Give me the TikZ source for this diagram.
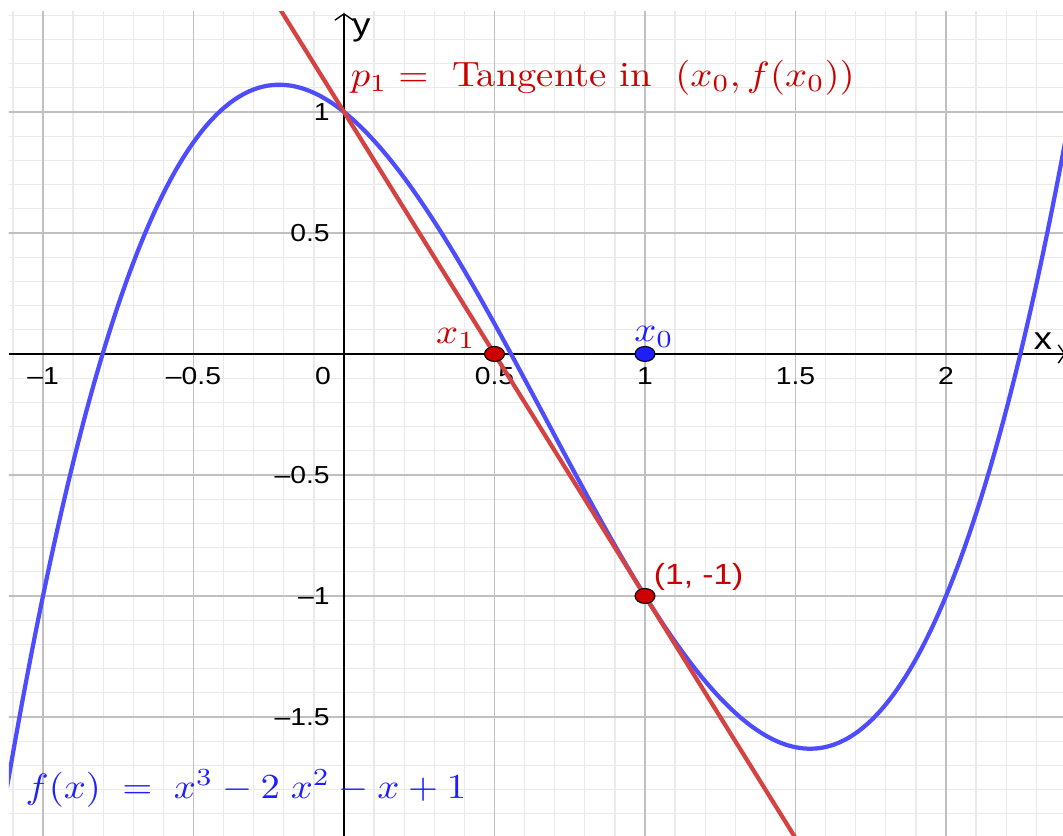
\documentclass[tikz,border=0pt]{standalone}
\usepackage{fontspec}
\newfontfamily\ggbsans{Liberation Sans}
\usepackage{tikz}
\usetikzlibrary{arrows.meta, positioning, shapes.geometric}

\definecolor{kurveblau}{RGB}{77,77,255}
\definecolor{tangrot}{RGB}{212,66,66}
\definecolor{textrot}{RGB}{204,0,0}
\definecolor{textblau}{RGB}{30,30,255}
\definecolor{gitterhaupt}{RGB}{192,192,192}
\definecolor{gitterneben}{RGB}{234,234,234}

\begin{document}
\begin{tikzpicture}[x=3.01cm, y=2.42cm,
  nebenlinie/.style={gitterneben, line width=0.35pt},
  hauptlinie/.style={gitterhaupt, line width=0.45pt},
  achse/.style={black, line width=0.4pt, -{Straight Barb[length=1.8pt,width=5.2pt]}},
  graph/.style={kurveblau, line width=1.2pt},
  tangente/.style={tangrot, line width=1.2pt},
  skala/.style={font=\ggbsans\fontsize{7}{8}\selectfont, inner sep=0pt, xscale=1.15},
  achsname/.style={font=\ggbsans\fontsize{9}{10}\selectfont, inner sep=0pt, xscale=1.15},
  formel/.style={font=\fontsize{10}{12}\selectfont, inner sep=0pt, xscale=1.1},
  punkt/.style={ellipse, draw=black, line width=0.3pt, minimum width=0.2cm,
                minimum height=0.15cm, inner sep=0pt}]

  \path[use as bounding box, fill=white] (-1.1429,-1.9917) rectangle (2.3887,1.4628);

  % --- Gitter ---
  \begin{scope}
    \clip (-1.113,-1.9917) rectangle (2.3887,1.417);
    \foreach \i in {-11,...,23} \draw[nebenlinie] (\i/10,-2) -- (\i/10,1.5);
    \foreach \j in {-19,...,14} \draw[nebenlinie] (-1.2,\j/10) -- (2.4,\j/10);
    \foreach \i in {-1,-0.5,0.5,1,1.5,2} \draw[hauptlinie] (\i,-2) -- (\i,1.5);
    \foreach \j in {-1.5,-1,-0.5,0.5,1} \draw[hauptlinie] (-1.2,\j) -- (2.4,\j);
  \end{scope}

  % --- Achsen ---
  \draw[achse] (-1.113,0) -- (2.397,0);
  \draw[achse] (0,-1.9917) -- (0,1.409);
  \node[achsname, anchor=center] (xname) at (2.322,0.055) {x};
  \node[achsname, anchor=base west] (yname) at (0.025,1.314) {y};

  \foreach \v/\t [count=\k] in {-1/–1,-0.5/–0.5,0.5/0.5,1/1,1.5/1.5,2/2}
    \node[skala] (xs\k) at (\v,-0.091) {\t};
  \node[skala] (null) at (-0.07,-0.091) {0};
  \foreach \v/\t [count=\k] in {-1.5/–1.5,-1/–1,-0.5/–0.5,0.5/0.5,1/1}
    \node[skala, anchor=east] (ys\k) at (-0.045,\v) {\t};

  % --- Kurve und Tangente ---
  \begin{scope}
    \clip (-1.113,-1.9917) rectangle (2.3887,1.417);
    \draw[graph, domain=-1.12:2.40, samples=220, smooth]
      plot (\x,{\x*\x*\x-2*\x*\x-\x+1});
    \draw[tangente] (-0.3,1.6) -- (1.6,-2.2);
  \end{scope}

  % --- Punkte ---
  \node[punkt, fill=textrot] (x1pkt) at (0.5,0) {};
  \node[punkt, fill=textblau] (x0pkt) at (1,0) {};
  \node[punkt, fill=textrot] (bpkt) at (1,-1) {};

  % --- Beschriftungen ---
  \node[formel, textrot, anchor=base east] (x1name) at (0.44,0.045) {$x_1$};
  \node[formel, textblau, anchor=base west] (x0name) at (0.962,0.05) {$x_0$};
  \node[achsname, textrot, anchor=west, font=\ggbsans\fontsize{8.3}{10}\selectfont]
    (bname) at (1.027,-0.921) {(1, -1)};
  \node[formel, textrot, anchor=base west] (tname) at (0.02,1.107)
    {$p_1 =\;$ Tangente in $\;(x_0, f(x_0))$};
  \node[formel, textblau, anchor=base west] (fname) at (-1.06,-1.835)
    {$f(x) \;=\; x^3 - 2\;x^2 - x + 1$};
\end{tikzpicture}
\end{document}
